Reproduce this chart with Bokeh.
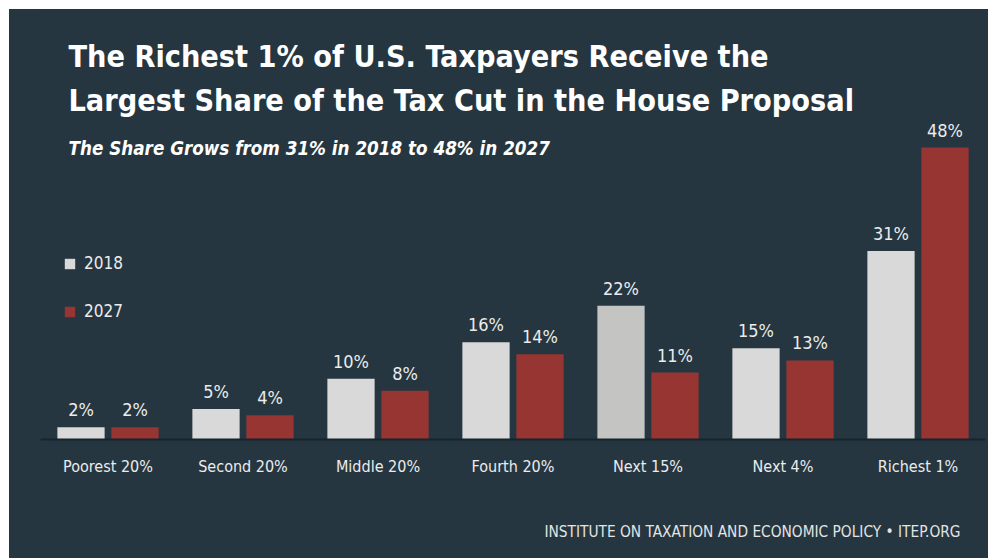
from bokeh.plotting import figure
from bokeh.layouts import column
from bokeh.models import FactorRange, Range1d, Label, Legend, LegendItem, ColumnDataSource, Title
from bokeh.transform import dodge
from bokeh.core.properties import value
from bokeh.embed import file_html
from bokeh.resources import INLINE

groups = ["Poorest 20%", "Second 20%", "Middle 20%", "Fourth 20%", "Next 15%", "Next 4%", "Richest 1%"]
share_2018 = [2, 5, 10, 16, 22, 15, 31]
share_2027 = [2, 4, 8, 14, 11, 13, 48]
series_names = ["2018", "2027"]

BG = "#253640"
GRAY = "#d9d9d9"
GRAY_DARK = "#c4c4c2"
RED = "#973533"
TXT = "#ececec"
FONT = "'DejaVu Sans Condensed', 'Roboto Condensed', 'Liberation Sans Narrow', Roboto, sans-serif"

src = ColumnDataSource(dict(
    group=groups,
    v2018=share_2018,
    v2027=share_2027,
    l2018=[f"{v}%" for v in share_2018],
    l2027=[f"{v}%" for v in share_2027],
    c2018=[GRAY_DARK if v == max(share_2018[:-1]) else GRAY for v in share_2018],
))

p = figure(width=979, height=549, x_range=FactorRange(*groups, range_padding=0),
           y_range=Range1d(0, 70.7), output_backend="svg", toolbar_location=None,
           min_border_left=31, min_border_right=3, min_border_top=0, min_border_bottom=119)
p.background_fill_color = BG
p.border_fill_color = BG
p.outline_line_color = None
p.xgrid.grid_line_color = None
p.ygrid.grid_line_color = None
p.yaxis.axis_line_color = None
p.yaxis.visible = False

r1 = p.vbar(x=dodge("group", -0.2, range=p.x_range), top="v2018", width=0.35, source=src,
            fill_color="c2018", line_color=None)
r2 = p.vbar(x=dodge("group", 0.2, range=p.x_range), top="v2027", width=0.35, source=src,
            fill_color=RED, line_color=None)

p.text(x=dodge("group", -0.2, range=p.x_range), y="v2018", text="l2018", source=src,
       text_align="center", text_baseline="bottom", y_offset=-7,
       text_color=TXT, text_font=value(FONT), text_font_size="18px")
p.text(x=dodge("group", 0.2, range=p.x_range), y="v2027", text="l2027", source=src,
       text_align="center", text_baseline="bottom", y_offset=-7,
       text_color=TXT, text_font=value(FONT), text_font_size="18px")

ax = p.xaxis[0]
ax.axis_line_color = "#17242c"
ax.axis_line_width = 2
ax.major_tick_line_color = None
ax.minor_tick_line_color = None
ax.major_tick_out = 0
ax.major_tick_in = 0
ax.major_label_standoff = 17
ax.major_label_text_font = FONT
ax.major_label_text_font_size = "16px"
ax.major_label_text_color = TXT
# blank axis label used only as vertical spacing above the footer
ax.axis_label = " "
ax.axis_label_standoff = 6
ax.axis_label_text_font_size = "14px"
ax.axis_label_text_color = BG

p.add_layout(Label(x=28, y=383, x_units="screen", y_units="screen",
                   text="The Richest 1% of U.S. Taxpayers Receive the",
                   text_font=FONT, text_font_style="bold", text_font_size="30.3px",
                   text_color="#ffffff", text_baseline="alphabetic"))
p.add_layout(Label(x=28, y=339, x_units="screen", y_units="screen",
                   text="Largest Share of the Tax Cut in the House Proposal",
                   text_font=FONT, text_font_style="bold", text_font_size="30.3px",
                   text_color="#ffffff", text_baseline="alphabetic"))
p.add_layout(Label(x=28, y=291, x_units="screen", y_units="screen",
                   text="The Share Grows from 31% in 2018 to 48% in 2027",
                   text_font=FONT, text_font_style="bold italic", text_font_size="18.7px",
                   text_color="#ffffff", text_baseline="alphabetic"))

p.add_layout(Title(text="INSTITUTE ON TAXATION AND ECONOMIC POLICY \u2022 ITEP.ORG",
                   align="right", offset=25, standoff=34,
                   text_font=FONT, text_font_style="normal", text_font_size="15.3px",
                   text_color="#e4e4e4"), "below")

legend = Legend(items=[LegendItem(label=series_names[0], renderers=[r1], index=0),
                       LegendItem(label=series_names[1], renderers=[r2])],
                location=(23, 118), orientation="vertical",
                glyph_width=13, glyph_height=13, label_height=13,
                spacing=28, padding=0, margin=0,
                label_text_font=FONT, label_text_font_size="17px", label_text_color=TXT,
                label_standoff=8, background_fill_alpha=0, border_line_color=None)
p.add_layout(legend, "center")

page = column(p, margin=(9, 0, 0, 9), styles={"background-color": BG})

open("out.html", "w").write(file_html(page, INLINE))
